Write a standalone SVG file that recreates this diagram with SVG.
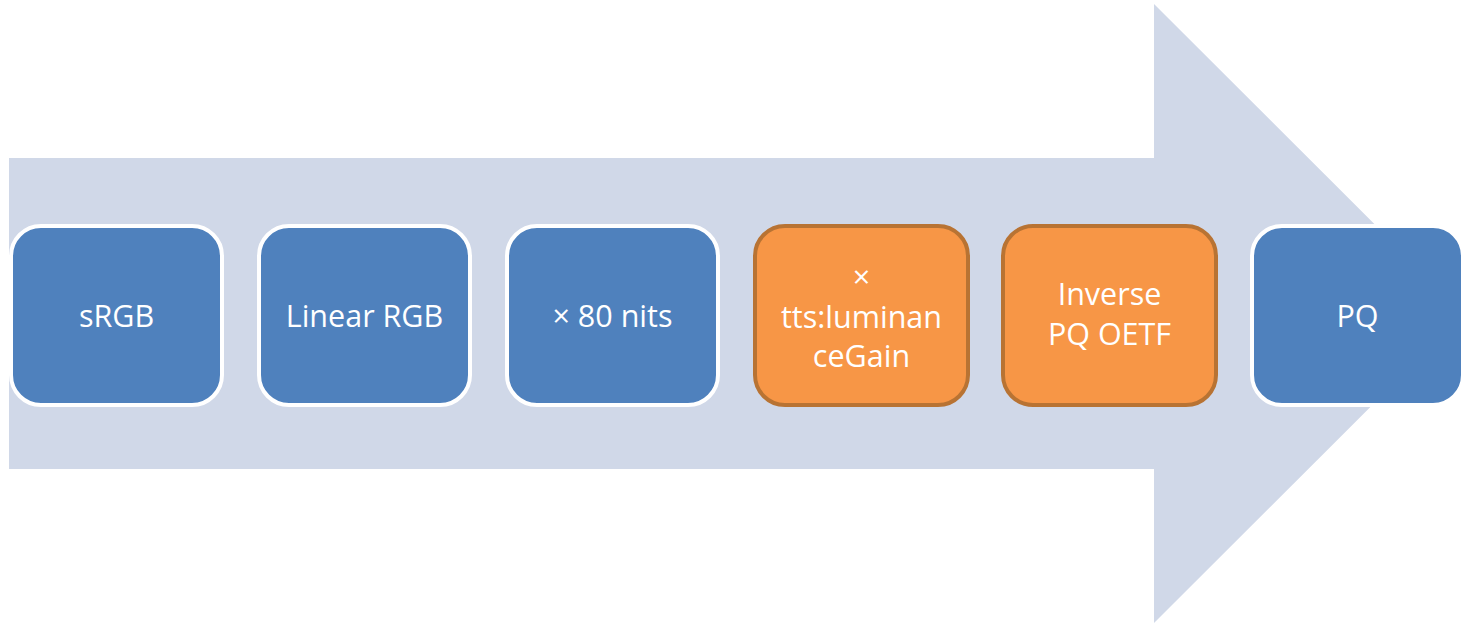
<svg xmlns="http://www.w3.org/2000/svg" width="1462" height="626" viewBox="0 0 1462 626">
<style>
.t{font-family:"Open Sans","Liberation Sans",sans-serif;font-size:30.5px;fill:#fff;text-anchor:middle}
.b{fill:#4F81BD;stroke:#fff;stroke-width:4}
.o{fill:#F79646;stroke:#B87333;stroke-width:4}
</style>
<rect width="1462" height="626" fill="#fff"/>
<g id="connectors">
<path d="M9 158H1154V4L1464 313.5L1154 623V469H9Z" fill="#D0D8E8"/>
</g>
<g id="n1"><rect class="b" x="11" y="226" width="211" height="179" rx="30"/><text class="t" x="116.5" y="327">sRGB</text></g>
<g id="n2"><rect class="b" x="259" y="226" width="211" height="179" rx="30"/><text class="t" x="364.5" y="327">Linear RGB</text></g>
<g id="n3"><rect class="b" x="507" y="226" width="211" height="179" rx="30"/><text class="t" x="612.5" y="327">× 80 nits</text></g>
<g id="n4"><rect class="o" x="755" y="226" width="213" height="179" rx="30"/><text class="t" x="861.5" y="288">×</text><text class="t" x="861.5" y="328">tts:luminan</text><text class="t" x="861.5" y="367">ceGain</text></g>
<g id="n5"><rect class="o" x="1003" y="226" width="213" height="179" rx="30"/><text class="t" x="1109.5" y="305">Inverse</text><text class="t" x="1109.5" y="345">PQ OETF</text></g>
<g id="n6"><rect class="b" x="1252" y="226" width="211" height="179" rx="30"/><text class="t" x="1357.5" y="327">PQ</text></g>
</svg>
